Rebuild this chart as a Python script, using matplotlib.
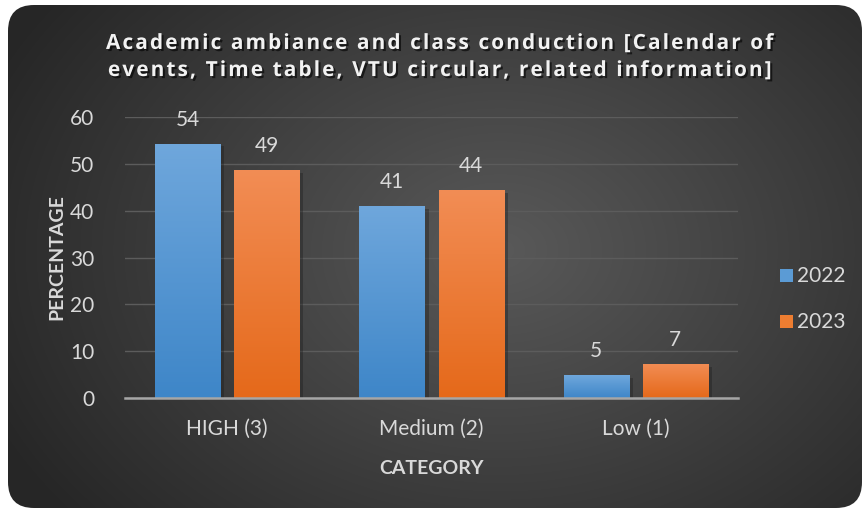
import numpy as np
import matplotlib
matplotlib.use("Agg")
import matplotlib.pyplot as plt
from matplotlib.patches import FancyBboxPatch
import matplotlib.patheffects as pe
from matplotlib.colors import LinearSegmentedColormap

categories = ["HIGH (3)", "Medium (2)", "Low (1)"]
series_names = ["2022", "2023"]
values_2022 = [54.3, 41.0, 4.9]
values_2023 = [48.7, 44.4, 7.3]
yticks = [0, 10, 20, 30, 40, 50, 60]

W, H = 868, 509
fig = plt.figure(figsize=(W / 100, H / 100), dpi=100, facecolor="white")

# background with radial gradient, rounded box
bg = fig.add_axes([0, 0, 1, 1])
bg.set_xlim(0, W)
bg.set_ylim(H, 0)
bg.axis("off")
yy, xx = np.mgrid[0:H, 0:W]
cx, cy = 500, 250
r = np.sqrt(((xx - cx) / 560.0) ** 2 + ((yy - cy) / 420.0) ** 2)
r = np.clip(r, 0, 1)
g = 0.35 - (0.35 - 0.15) * r
img = np.dstack([g, g, g])
im = bg.imshow(img, extent=(0, W, H, 0), interpolation="bilinear", zorder=0)
box = FancyBboxPatch((8, 5), 854, 503, boxstyle="round,pad=0,rounding_size=26",
                     transform=bg.transData, facecolor="none", edgecolor="none")
bg.add_patch(box)
im.set_clip_path(box)

ax = fig.add_axes([125 / W, 1 - 398 / H, (738 - 125) / W, (398 - 117) / H])
ax.set_facecolor("none")
ax.set_xlim(-0.5, 2.5)
ax.set_ylim(0, 60)
ax.set_yticks(yticks)
ax.yaxis.grid(True, color="#5c5c5c", linewidth=1.0)
ax.set_axisbelow(True)
for s in ["top", "right", "left"]:
    ax.spines[s].set_visible(False)
ax.spines["bottom"].set_color("#a6a6a6")
ax.spines["bottom"].set_linewidth(1.8)
ax.spines["bottom"].set_zorder(5)
ax.tick_params(axis="both", length=0, colors="#d9d9d9", labelsize=15)
ax.tick_params(axis="y", pad=22)
ax.tick_params(axis="x", pad=15)
ax.set_xticks(range(len(categories)))
ax.set_xticklabels(categories)
for lab in ax.get_xticklabels() + ax.get_yticklabels():
    lab.set_fontfamily("Lato")

x = np.arange(len(categories))
bw = 65 / 204.3
gap = 14 / 204.3
offs = [-(bw + gap) / 2, (bw + gap) / 2]

cm_blue = LinearSegmentedColormap.from_list("b", ["#3e86c8", "#6fa7dc"])
cm_orange = LinearSegmentedColormap.from_list("o", ["#e5691a", "#f28d55"])
grad = np.linspace(0, 1, 256).reshape(-1, 1)

for vals, off, cmap, col in [(values_2022, offs[0], cm_blue, "#5b9bd5"),
                             (values_2023, offs[1], cm_orange, "#ed7d31")]:
    bars = ax.bar(x + off, vals, width=bw, color=col, zorder=3,
                  path_effects=[pe.SimplePatchShadow(offset=(3, -2), shadow_rgbFace="#1a1a1a", alpha=0.35), pe.Normal()])
    for b, v in zip(bars, vals):
        x0 = b.get_x()
        gi = ax.imshow(grad, extent=(x0, x0 + bw, 0, v), origin="lower", cmap=cmap,
                       aspect="auto", zorder=3.5)
        gi.set_clip_path(b)
        ax.text(x0 + bw / 2, v + 3.0, f"{round(v)}", ha="center", va="bottom",
                color="#d9d9d9", fontsize=15, fontfamily="Lato", zorder=6)
ax.set_xlim(-0.5, 2.5)
ax.set_ylim(0, 60)

ax.set_ylabel("PERCENTAGE", color="#d9d9d9", fontsize=14, fontweight="bold",
              fontfamily="Lato")
ax.yaxis.set_label_coords(-0.097, 0.5)
ax.set_xlabel("CATEGORY", color="#d9d9d9", fontsize=14, fontweight="bold",
              fontfamily="Lato")
ax.xaxis.set_label_coords(0.5, -0.22)

title = ("Academic ambiance and class conduction [Calendar of\n"
         "events, Time table, VTU circular, related information]")
spaced = "\n".join("\u200a".join(list(line)) for line in title.split("\n"))
fig.text(441 / W, 1 - 57 / H, spaced, ha="center", va="center", color="#f2f2f2",
         fontsize=15, fontweight="bold", family=["Open Sans", "DejaVu Sans"],
         linespacing=1.38,
         path_effects=[pe.withSimplePatchShadow(offset=(1.5, -1.5), shadow_rgbFace="black", alpha=0.6)])

# legend
for i, (name, col) in enumerate(zip(series_names, ["#5b9bd5", "#ed7d31"])):
    yc = 276 + i * 46
    fig.patches.append(plt.Rectangle((780 / W, 1 - (yc + 6) / H), 13 / W, 13 / H,
                                     transform=fig.transFigure, facecolor=col, edgecolor="none"))
    fig.text(797 / W, 1 - yc / H, name, ha="left", va="center", color="#d9d9d9",
             fontsize=15, fontfamily="Lato")

fig.savefig("out.png", dpi=100, facecolor="white")
